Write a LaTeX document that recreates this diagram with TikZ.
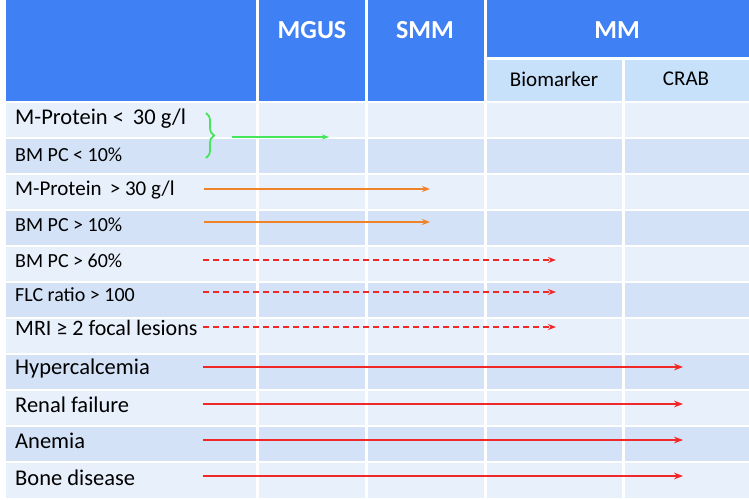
\documentclass[tikz,border=0pt]{standalone}
\usepackage{fontspec}
\setmainfont{Carlito}
\usetikzlibrary{arrows.meta,decorations.pathreplacing}
\definecolor{headblue}{RGB}{64,128,245}
\definecolor{subblue}{RGB}{200,225,250}
\definecolor{rowA}{RGB}{232,240,251}
\definecolor{rowB}{RGB}{211,226,247}
\definecolor{arrgreen}{RGB}{70,230,90}
\definecolor{arrorange}{RGB}{240,130,40}
\definecolor{arrred}{RGB}{240,40,40}
\tikzset{
    head/.style={text=white, font=\fontsize{26}{28}\selectfont\bfseries},
    subhead/.style={font=\fontsize{21}{23}\selectfont},
    lbl/.style={anchor=west, inner xsep=0pt, font=\fontsize{#1}{24}\selectfont},
    lbl/.default=20,
    cell/.style={draw=white, line width=3pt},
}
\begin{document}
\begin{tikzpicture}[x=1pt, y=-1pt]
    \useasboundingbox (0, 0) rectangle (749, 499);
    % header
    \fill[headblue] (6, 0) rectangle (749, 102);
    \fill[subblue] (485, 58) rectangle (749, 102);
    \draw[cell] (257, 0) -- (257, 499);
    \draw[cell] (366, 0) -- (366, 499);
    \draw[cell] (485, 0) -- (485, 499);
    \draw[cell] (623, 58) -- (623, 499);
    \draw[cell] (485, 58) -- (749, 58);
    \node[head] at (312, 30) (mgus) {MGUS};
    \node[head] at (425, 30) (smm) {SMM};
    \node[head] at (617, 30) (mm) {MM};
    \node[subhead] at (554, 79) (bio) {Biomarker};
    \node[subhead] at (686, 79) (crab) {CRAB};
    % rows
    \foreach \i in {0,...,10} {
        \pgfmathsetmacro{\ytop}{102+36*\i}
        \pgfmathtruncatemacro{\odd}{mod(\i,2)}
        \ifnum\odd=0 \def\rc{rowA}\else\def\rc{rowB}\fi
        \fill[\rc] (6, \ytop) rectangle (749, \ytop+36);
        \draw[white, line width=1.5pt] (6, \ytop) -- (749, \ytop);
    }
    \foreach \x in {257, 366, 485, 623} {
        \draw[cell] (\x, 102) -- (\x, 499);
    }
    % labels
    \node[lbl=22.5] at (15, 119) (r1) {M-Protein <\, 30 g/l};
    \node[lbl=20] at (15, 155) (r2) {BM PC < 10\%};
    \node[lbl=21] at (15, 190) (r3) {M-Protein \,> 30 g/l};
    \node[lbl=20] at (15, 225) (r4) {BM PC > 10\%};
    \node[lbl=20] at (15, 261) (r5) {BM PC > 60\%};
    \node[lbl=20] at (15, 295) (r6) {FLC ratio > 100};
    \node[lbl=22] at (15, 328) (r7) {MRI ≥ 2 focal lesions};
    \node[lbl=22.5] at (15, 368) (r8) {Hypercalcemia};
    \node[lbl=22.5] at (15, 405) (r9) {Renal failure};
    \node[lbl=22.5] at (15, 441) (r10) {Anemia};
    \node[lbl=22.5] at (15, 478) (r11) {Bone disease};
    % arrows
    \coordinate (bt) at (206, 113);
    \coordinate (bb) at (206, 158);
    \draw[arrgreen, line width=1.8pt, decorate, decoration={brace, amplitude=8pt}] (bt) -- (bb);
    \coordinate (g0) at (232, 137);
    \coordinate (g1) at (329, 137);
    \draw[arrgreen, line width=1.5pt, -{Stealth[length=7pt]}] (g0) -- (g1);
    \foreach \n/\y in {o1/189, o2/222} {
        \coordinate (\n s) at (204, \y);
        \coordinate (\n e) at (430, \y);
        \draw[arrorange, line width=1.5pt, -{Stealth[length=8pt]}] (\n s) -- (\n e);
    }
    \foreach \n/\y in {d1/260, d2/292, d3/327} {
        \coordinate (\n s) at (203, \y);
        \coordinate (\n e) at (556, \y);
        \draw[arrred, line width=1.5pt, dashed, dash pattern=on 6pt off 4pt, -{Stealth[length=8pt]}] (\n s) -- (\n e);
    }
    \foreach \n/\y in {s1/367, s2/404, s3/440, s4/476} {
        \coordinate (\n s) at (203, \y);
        \coordinate (\n e) at (683, \y);
        \draw[arrred, line width=1.8pt, -{Stealth[length=9pt]}] (\n s) -- (\n e);
    }
\end{tikzpicture}
\end{document}
